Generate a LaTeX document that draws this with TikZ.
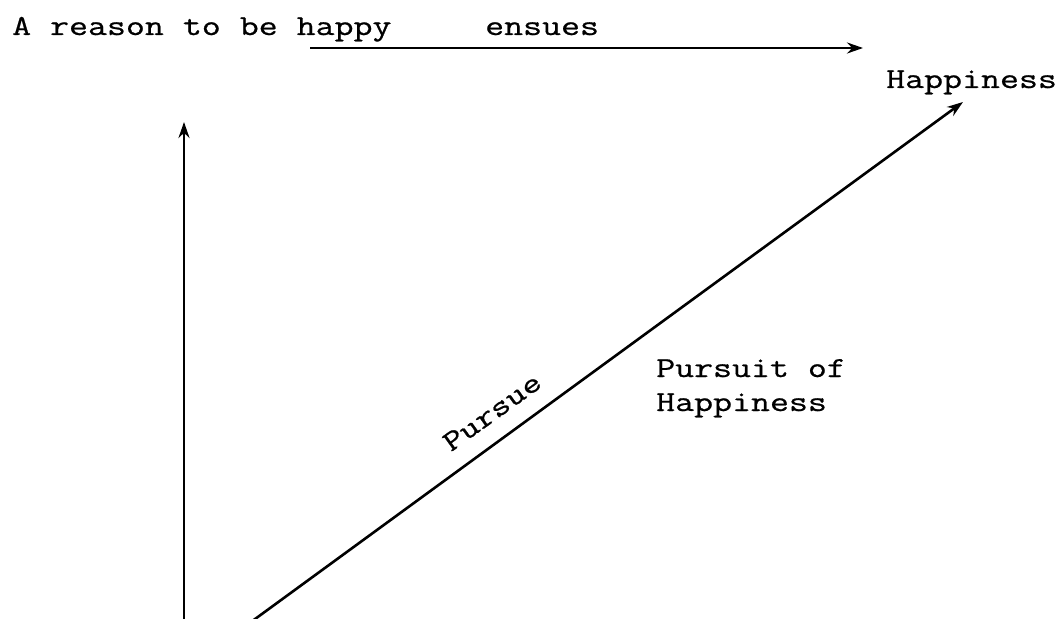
\documentclass[tikz,border=0pt]{standalone}
\usepackage{fontspec}
\usetikzlibrary{arrows.meta}
\newfontfamily\twfont{Latin Modern Mono}[FakeBold=0.7, FakeStretch=1.27]
\tikzset{
  lbl/.style={inner sep=0pt, font=\fontsize{29}{34}\selectfont\twfont},
  arr/.style={line width=2.6pt, -{Stealth[length=16pt,width=11pt]}}
}
\begin{document}
\begin{tikzpicture}[x=1pt,y=-1pt]
\useasboundingbox[fill=white] (0,0) rectangle (1062,618);
% labels
\node[lbl, anchor=base west] (reason) at (12,35) {A reason to be happy};
\node[lbl, anchor=base west] (ensues) at (485,35) {ensues};
\node[lbl, anchor=base west] (happ) at (886,88) {Happiness};
\node[lbl, anchor=base west] (pursuit) at (656,377) {Pursuit of};
\node[lbl, anchor=base west] (pursuit2) at (656,411) {Happiness};
% anchor points
\coordinate (hs) at (310,48);
\coordinate (he) at (863,48);
\coordinate (vs) at (184,630);
\coordinate (ve) at (184,122);
\coordinate (ds) at (240,630);
\coordinate (de) at (963,102);
% arrows
\draw[arr] (hs) -- (he);
\draw[arr] (vs) -- (ve);
\draw[arr] (ds) -- (de);
\node[lbl, rotate=35.7] (pursue) at (492,412) {Pursue};
\end{tikzpicture}
\end{document}
